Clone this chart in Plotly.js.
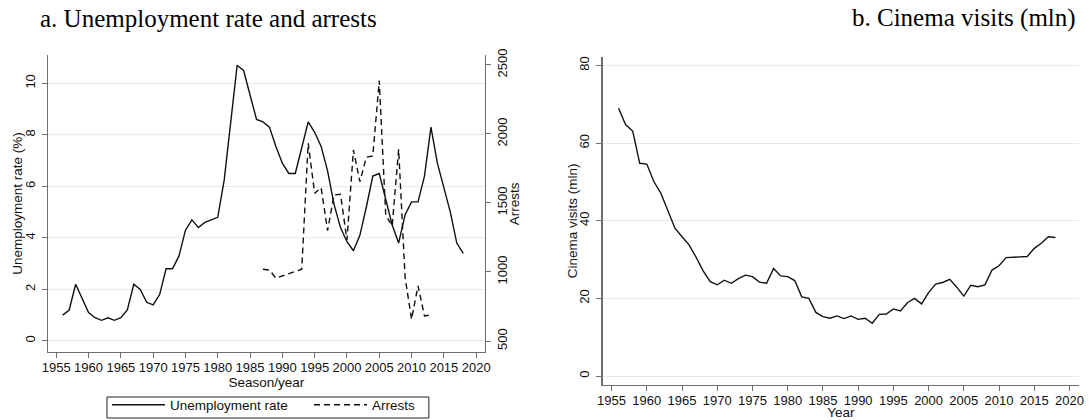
<!DOCTYPE html>
<html>
<head>
<meta charset="utf-8">
<script src="https://cdn.plot.ly/plotly-3.0.1.min.js"></script>
<style>
  html, body { margin: 0; padding: 0; background: #fff; }
  #chart { width: 1089px; height: 420px; }
</style>
</head>
<body>
<div id="chart"></div>
<script>
// ---- Data ----
var unempYears = [1956,1957,1958,1959,1960,1961,1962,1963,1964,1965,1966,1967,1968,1969,1970,
  1971,1972,1973,1974,1975,1976,1977,1978,1979,1980,1981,1982,1983,1984,1985,1986,1987,1988,1989,
  1990,1991,1992,1993,1994,1995,1996,1997,1998,1999,2000,2001,2002,2003,2004,2005,2006,2007,2008,
  2009,2010,2011,2012,2013,2014,2015,2016,2017,2018];
var unempRate = [1.0,1.2,2.2,1.65,1.1,0.9,0.8,0.9,0.8,0.9,1.2,2.2,2.0,1.5,1.4,
  1.8,2.8,2.8,3.3,4.3,4.7,4.4,4.6,4.7,4.8,6.25,8.6,10.7,10.5,9.6,8.6,8.5,8.3,7.55,
  6.9,6.5,6.5,7.5,8.5,8.1,7.55,6.6,5.3,4.4,3.85,3.5,4.1,5.2,6.4,6.5,5.5,4.5,3.8,
  4.9,5.4,5.4,6.4,8.3,6.9,6.0,5.0,3.8,3.4];

var arrestYears = [1987,1988,1989,1990,1991,1992,1993,1994,1995,1996,1997,1998,1999,2000,
  2001,2002,2003,2004,2005,2006,2007,2008,2009,2010,2011,2012,2013];
var arrests = [1020,1014,955,970,985,1002,1020,1933,1570,1610,1300,1558,1563,1232,
  1884,1654,1831,1840,2386,1413,1333,1889,960,657,900,681,690];

var cinemaYears = [1956,1957,1958,1959,1960,1961,1962,1963,1964,1965,1966,1967,1968,1969,1970,
  1971,1972,1973,1974,1975,1976,1977,1978,1979,1980,1981,1982,1983,1984,1985,1986,1987,1988,1989,
  1990,1991,1992,1993,1994,1995,1996,1997,1998,1999,2000,2001,2002,2003,2004,2005,2006,2007,2008,
  2009,2010,2011,2012,2013,2014,2015,2016,2017,2018];
var cinemaVisits = [69.0,64.7,63.1,54.8,54.6,50.1,47.1,42.4,38.1,35.9,33.8,30.6,27.1,24.3,23.5,
  24.7,23.9,25.1,26.0,25.6,24.2,23.9,27.7,25.8,25.6,24.6,20.4,20.0,16.4,15.3,14.9,15.5,14.8,15.5,
  14.6,14.9,13.6,15.9,16.0,17.3,16.8,18.9,20.0,18.6,21.5,23.7,24.1,24.9,22.9,20.6,23.4,23.0,23.5,
  27.3,28.4,30.5,30.6,30.8,30.8,32.9,34.2,35.9,35.7];

var yearTicks = [1955,1960,1965,1970,1975,1980,1985,1990,1995,2000,2005,2010,2015,2020];
var unempTicks = [0,2,4,6,8,10];
var arrestTicks = [500,1000,1500,2000,2500];
var cinemaTicks = [0,20,40,60,80];

// ---- Styling ----
var SANS = 'Liberation Sans, Arial, sans-serif';
var SERIF = 'Liberation Serif, Times New Roman, serif';
var AXC = '#6e6e6e';
var GRID = '#e3ecec';
var tickFont = {family: SANS, size: 13, color: '#111'};
var titleFont = {family: SANS, size: 13.5, color: '#111'};

var traces = [
  {x: unempYears, y: unempRate, type: 'scatter', mode: 'lines', name: 'Unemployment rate',
   xaxis: 'x', yaxis: 'y', line: {color: '#111', width: 1.4}, legendwidth: 134},
  {x: arrestYears, y: arrests, type: 'scatter', mode: 'lines', name: 'Arrests',
   xaxis: 'x', yaxis: 'y2', line: {color: '#111', width: 1.4, dash: '6px,4px'}},
  {x: cinemaYears, y: cinemaVisits, type: 'scatter', mode: 'lines', name: 'Cinema visits',
   xaxis: 'x2', yaxis: 'y3', showlegend: false, line: {color: '#111', width: 1.4}}
];

function xAxis(domain, anchor, title, standoff) {
  return {
    domain: domain, anchor: anchor, range: [1953.72, 2021.35],
    tickmode: 'array', tickvals: yearTicks, ticktext: yearTicks.map(String),
    ticks: 'outside', ticklen: 5, tickcolor: AXC, tickwidth: 1, ticklabelstandoff: -2,
    showline: true, linecolor: AXC, linewidth: 1.3, mirror: false,
    showgrid: false, zeroline: false, tickfont: tickFont,
    title: {text: title, font: titleFont, standoff: standoff},
    automargin: false, fixedrange: true
  };
}

function yAxis(domain, anchor, range, ticks, extra) {
  var ax = {
    domain: domain, anchor: anchor, range: range,
    tickmode: 'array', tickvals: ticks, tickangle: -90,
    ticks: 'outside', ticklen: 5, tickcolor: AXC, ticklabelstandoff: 2,
    showline: true, linecolor: AXC, linewidth: 1.3,
    showgrid: true, gridcolor: GRID, gridwidth: 1, zeroline: false,
    tickfont: tickFont, automargin: false, fixedrange: true
  };
  for (var k in extra) ax[k] = extra[k];
  return ax;
}

function yTitle(text, x, y) {
  return {text: text, xref: 'paper', yref: 'paper', x: x, y: y,
          xanchor: 'center', yanchor: 'middle', textangle: -90, showarrow: false,
          font: titleFont};
}

var layout = {
  width: 1089, height: 420,
  margin: {l: 48, r: 9.7, t: 55, b: 35, autoexpand: false},
  paper_bgcolor: '#fff', plot_bgcolor: '#fff',
  showlegend: true,
  legend: {
    orientation: 'h', x: 0.0572, xanchor: 'left', y: -0.0136, yanchor: 'top',
    borderwidth: 0, bgcolor: 'rgba(0,0,0,0)',
    font: {family: SANS, size: 13.5, color: '#111'}, itemwidth: 53,
    traceorder: 'normal'
  },
  // frame around the legend (as in the reference)
  shapes: [
    {type: 'rect', xref: 'paper', yref: 'paper', x0: 0.0572, x1: 0.3694, y0: -0.1, y1: -0.0364,
     line: {color: '#222', width: 1}, fillcolor: 'rgba(0,0,0,0)', layer: 'above'}
  ],
  xaxis: xAxis([0, 0.42374], 'y', 'Season/year', 0),
  xaxis2: xAxis([0.53787, 1], 'y3', 'Year', 3),
  yaxis: yAxis([0.1, 1], 'x', [-0.43, 11.1], unempTicks, {}),
  yaxis2: yAxis([0.1, 1], 'x', [420.3, 2572], arrestTicks,
                {overlaying: 'y', side: 'right', showgrid: false, ticklabelstandoff: 0}),
  yaxis3: yAxis([0, 0.99303], 'x2', [-2.3, 82.1], cinemaTicks, {}),
  annotations: [
    {text: 'a. Unemployment rate and arrests', xref: 'paper', yref: 'paper',
     x: -0.0097, xanchor: 'left', y: 1.112, yanchor: 'middle', showarrow: false,
     font: {family: SERIF, size: 25, color: '#000'}},
    {text: 'b. Cinema visits (mln)', xref: 'paper', yref: 'paper',
     x: 0.99874, xanchor: 'right', y: 1.112, yanchor: 'middle', showarrow: false,
     font: {family: SERIF, size: 25, color: '#000'}},
    yTitle('Unemployment rate (%)', -0.0298, 0.55),
    yTitle('Arrests', 0.4528, 0.55),
    yTitle('Cinema visits (mln)', 0.5094, 0.497)
  ]
};

Plotly.newPlot('chart', traces, layout, {displayModeBar: false, staticPlot: true});
</script>
</body>
</html>
